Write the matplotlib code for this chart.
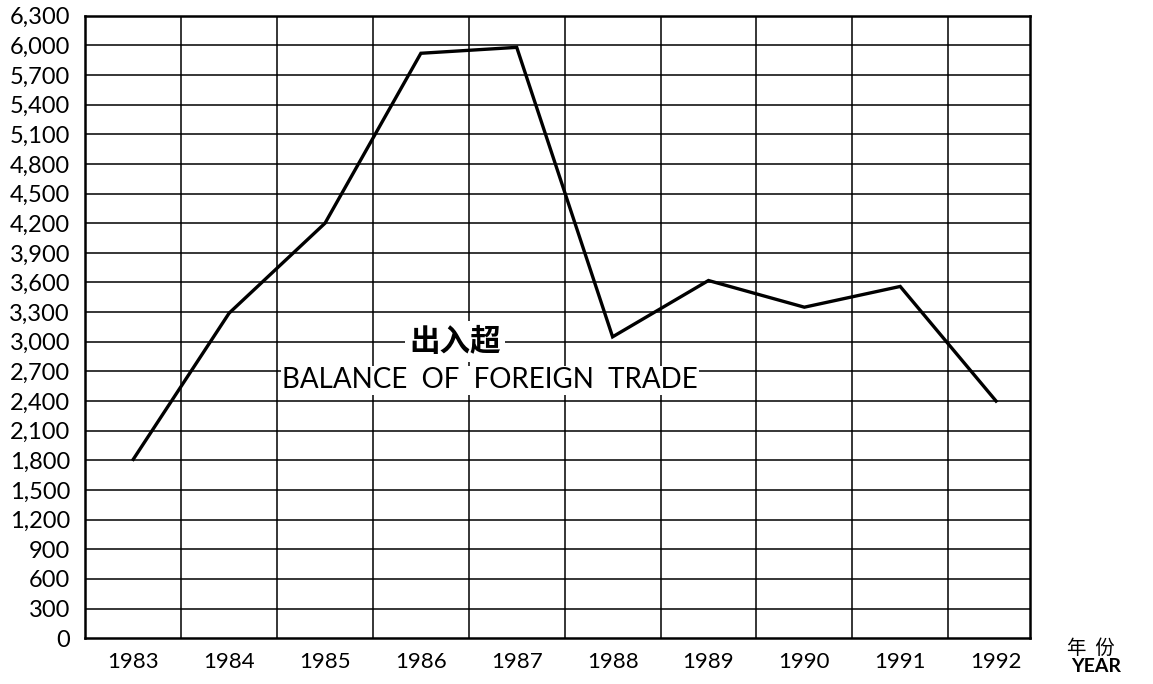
import matplotlib.pyplot as plt
import numpy as np

# balance of foreign trade
years = ['1983', '1984', '1985', '1986', '1987', '1988', '1989', '1990', '1991', '1992']
balance = [1810, 3290, 4200, 5920, 5980, 3050, 3620, 3350, 3560, 2400]
y_ticks = list(range(0, 6301, 300))
y_labels = ['{:,}'.format(v) for v in y_ticks]

plt.rcParams['font.family'] = ['Lato', 'Noto Sans CJK SC', 'DejaVu Sans']

fig = plt.figure(figsize=(11.53, 6.84), dpi=100)
ax = fig.add_axes([0.074, 0.067, 0.819, 0.91])

x = np.arange(len(years))
ax.plot(x, balance, color='black', linewidth=2.4, solid_joinstyle='miter', zorder=3)

ax.set_xlim(-0.5, 9.35)
ax.set_ylim(0, 6300)

# grid: horizontal at each tick, vertical between the years
for v in y_ticks[1:-1]:
    ax.axhline(v, color='black', linewidth=1.1, zorder=1)
for b in np.arange(0.5, 9, 1):
    ax.axvline(b, color='black', linewidth=1.1, zorder=1)

ax.set_yticks(y_ticks)
ax.set_yticklabels(y_labels, fontsize=17)
ax.set_xticks(x)
ax.set_xticklabels(years, fontsize=16)
ax.tick_params(axis='y', length=0, pad=11)
ax.tick_params(axis='x', length=0, pad=10)
for s in ax.spines.values():
    s.set_linewidth(1.8)

ax.text(3.36, 3000, '出入超', fontsize=22, fontweight='bold', ha='center', va='center',
        family=['Noto Sans CJK SC'], bbox=dict(facecolor='white', edgecolor='none', pad=3), zorder=4)
ax.text(3.72, 2610, 'BALANCE  OF  FOREIGN  TRADE', fontsize=20, ha='center', va='center',
        bbox=dict(facecolor='white', edgecolor='none', pad=1), zorder=4)

fig.text(0.946, 0.052, '年  份', fontsize=14, ha='center', va='center',
         family=['Noto Sans CJK SC'])
fig.text(0.951, 0.026, 'YEAR', fontsize=14, fontweight='bold', ha='center', va='center')

fig.savefig('out.png', dpi=100)
